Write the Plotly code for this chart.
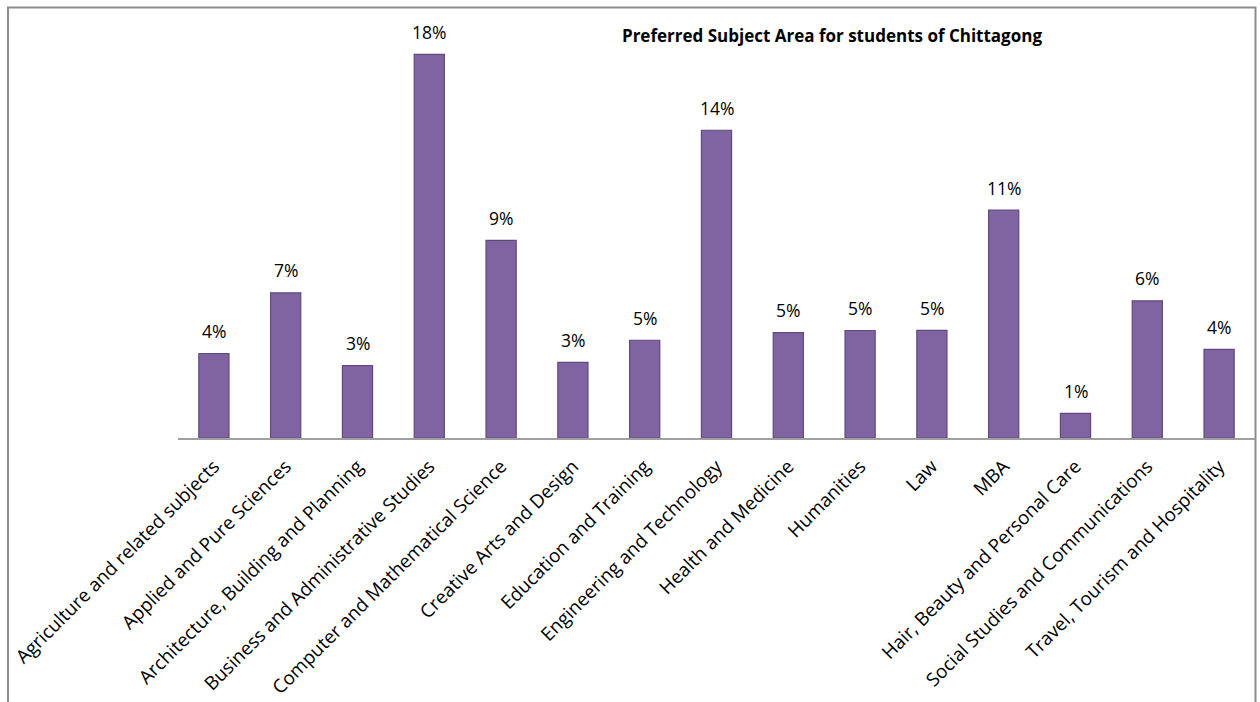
import plotly.graph_objects as go

categories = [
    "Agriculture and related subjects",
    "Applied and Pure Sciences",
    "Architecture, Building and Planning",
    "Business and Administrative Studies",
    "Computer and Mathematical Science",
    "Creative Arts and Design",
    "Education and Training",
    "Engineering and Technology",
    "Health and Medicine",
    "Humanities",
    "Law",
    "MBA",
    "Hair, Beauty and Personal Care",
    "Social Studies and Communications",
    "Travel, Tourism and Hospitality",
]
values = [3.90, 6.70, 3.34, 17.70, 9.12, 3.49, 4.51, 14.20, 4.86, 4.96, 4.97, 10.52, 1.14, 6.33, 4.09]
labels = ["4%", "7%", "3%", "18%", "9%", "3%", "5%", "14%", "5%", "5%", "5%", "11%", "1%", "6%", "4%"]
title_text = "Preferred Subject Area for students of Chittagong"

W, H = 1260, 702
L, R, T, B = 178, 5, 20, 264
plot_w = W - L - R
plot_h = H - T - B
px_per_unit = 383.6 / 17.70
ymax = plot_h / px_per_unit

fig = go.Figure()
fig.add_trace(go.Bar(
    x=categories, y=values,
    marker=dict(color="#8064A2", line=dict(color="#5F4A7E", width=1.2)),
    width=0.42,
    hoverinfo="x+y",
))

for c, v, t in zip(categories, values, labels):
    fig.add_annotation(x=c, y=v, text=t, showarrow=False, yanchor="bottom",
                       yshift=8.5, font=dict(family="Open Sans", size=17.5, color="#000000"))

def px_x(p):
    return (p - L) / plot_w

def px_y(p):
    return (H - B - p) / plot_h

fig.add_shape(type="rect", xref="paper", yref="paper",
              x0=px_x(8), x1=px_x(1255.5), y0=px_y(720), y1=px_y(7.5),
              line=dict(color="#8C8C8C", width=2), fillcolor="rgba(0,0,0,0)", layer="below")

fig.update_layout(
    width=W, height=H,
    margin=dict(l=L, r=R, t=T, b=B),
    paper_bgcolor="white", plot_bgcolor="white",
    showlegend=False,
    title=dict(text="<b>" + title_text + "</b>", x=832 / W, xanchor="center",
               y=1 - 36 / H, yanchor="middle",
               font=dict(family="Open Sans", size=17, color="#000000")),
    font=dict(family="Open Sans", color="#000000"),
    xaxis=dict(tickangle=-45, tickfont=dict(family="Open Sans", size=18.8, color="#000000"),
               showline=True, linecolor="#A0A0A0", linewidth=2, showgrid=False,
               ticks="", ticklen=0, ticklabelstandoff=8, automargin=False),
    yaxis=dict(range=[0, ymax], visible=False, showgrid=False, zeroline=False),
)

fig.write_html("out.html")
